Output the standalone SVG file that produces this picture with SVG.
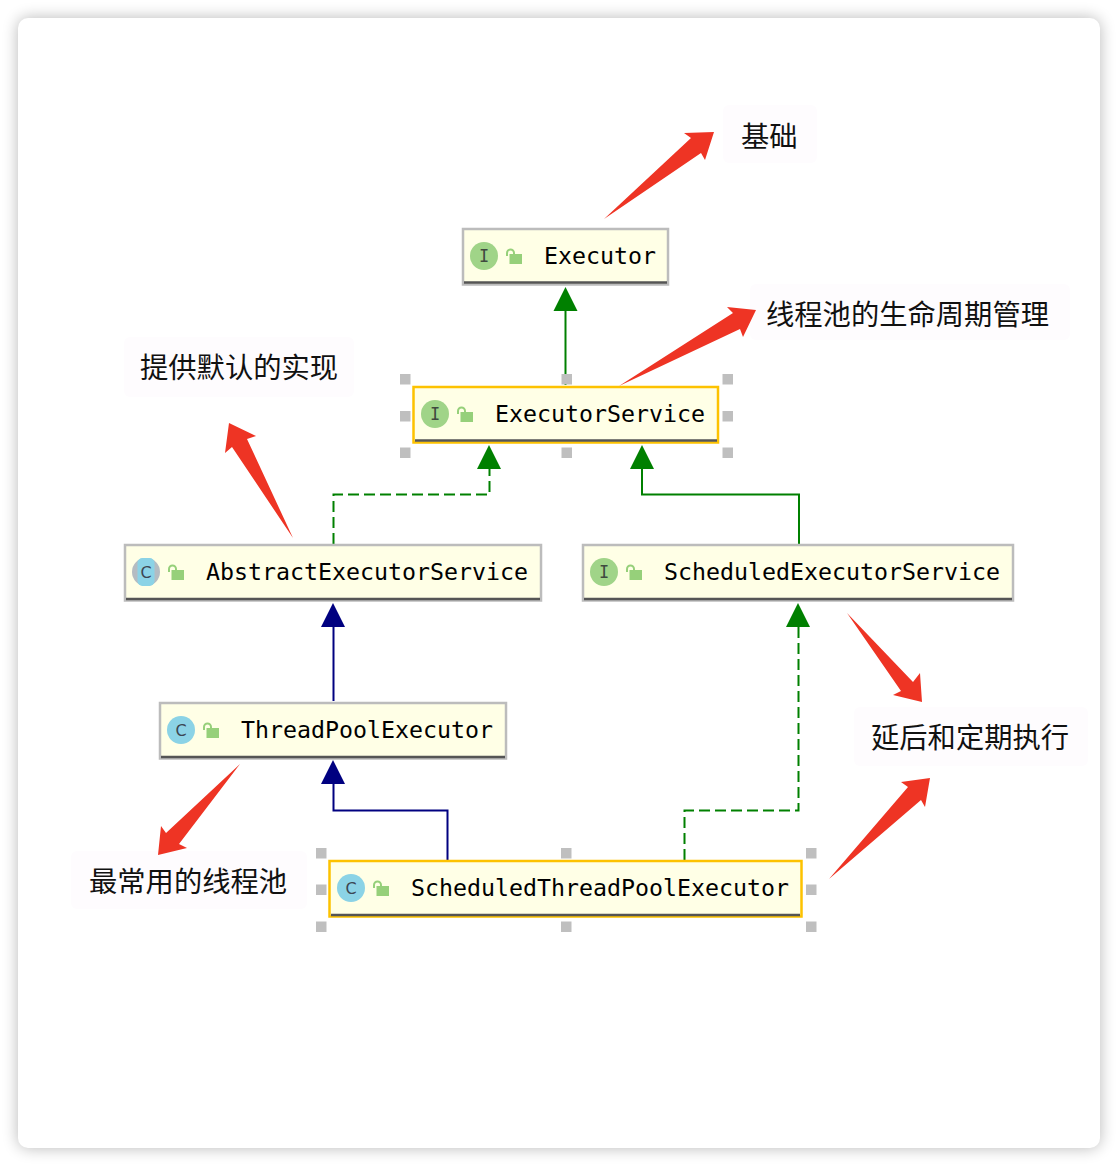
<svg xmlns="http://www.w3.org/2000/svg" width="1118" height="1166" viewBox="0 0 1118 1166">
<style>
.box{fill:#ffffe6;stroke:#bcbcbc;stroke-width:2.5}
.sel{fill:#ffffe6;stroke:#fdc200;stroke-width:2.5}
.bar{stroke:#555;stroke-width:2.5}
.name{font-family:"DejaVu Sans Mono",monospace;font-size:23.25px;fill:#000}
.ci{fill:#a0d488}
.cc{fill:#8bd3e6}
.gl{font-family:"DejaVu Sans Mono",monospace;font-size:17px;fill:#3f4a3f;text-anchor:middle}
.gc{font-family:"DejaVu Sans",sans-serif;font-size:16px;fill:#3c4652;text-anchor:middle}
.lk{fill:#96d07a}
.ls{fill:none;stroke:#96d07a;stroke-width:2}
.h{fill:#bfbfbf}
.cg{fill:none;stroke:#008000;stroke-width:2}
.cn{fill:none;stroke:#000080;stroke-width:2}
.d{stroke-dasharray:11 5}
.ag{fill:#008000}
.an{fill:#000080}
.red{fill:#ee3424}
.lb{fill:#fefcfe}
.zh{font-family:"Noto Sans CJK SC",sans-serif;font-size:28.3px;fill:#111}
</style>
<defs>
<filter id="sh" x="-5%" y="-5%" width="110%" height="110%"><feGaussianBlur stdDeviation="8"/></filter>
<g id="lock"><rect x="3.500" y="5" width="12.500" height="10" class="lk"/><path d="M1 7V4a3.500 3.500 0 0 1 7 0v1" class="ls"/></g>
</defs>
<rect width="1118" height="1166" fill="#fff"/>
<rect x="18" y="18" width="1082" height="1130" rx="10" fill="#000" opacity=".28" filter="url(#sh)"/>
<rect x="18" y="18" width="1082" height="1130" rx="10" fill="#fff"/>

<g id="label-jichu"><rect class="lb" x="723" y="105" width="94" height="58" rx="6"/><text class="zh" x="741" y="147">基础</text></g>
<g id="label-lifecycle"><rect class="lb" x="750" y="284" width="320" height="56" rx="6"/><text class="zh" x="766" y="325">线程池的生命周期管理</text></g>
<g id="label-default"><rect class="lb" x="124" y="337" width="230" height="60" rx="6"/><text class="zh" x="140" y="378">提供默认的实现</text></g>
<g id="label-delay"><rect class="lb" x="854" y="707" width="234" height="59" rx="6"/><text class="zh" x="871" y="748">延后和定期执行</text></g>
<g id="label-common"><rect class="lb" x="71" y="851" width="236" height="58" rx="6"/><text class="zh" x="89" y="892">最常用的线程池</text></g>

<g id="connectors">
<path class="cg" d="M565.500 385V308"/><path class="ag" d="M565.500 287l12 24h-24z"/>
<path class="cg d" d="M333.500 544V494.500H489.500V468"/><path class="ag" d="M489 445l12 24h-24z"/>
<path class="cg" d="M799 544V494.500H642V468"/><path class="ag" d="M642 445l12 24h-24z"/>
<path class="cn" d="M333.500 701V624"/><path class="an" d="M333 603l12 24h-24z"/>
<path class="cn" d="M447.500 860V810.500H333.500V782"/><path class="an" d="M333 760l12 24h-24z"/>
<path class="cg d" d="M684.500 860V810.500H798.500V625"/><path class="ag" d="M798 603l12 24h-24z"/>
</g>

<g id="handles" class="h">
<rect x="400" y="374" width="10.500" height="10.500"/><rect x="561.500" y="374" width="10.500" height="10.500"/><rect x="722.500" y="374" width="10.500" height="10.500"/>
<rect x="400" y="411" width="10.500" height="10.500"/><rect x="722.500" y="411" width="10.500" height="10.500"/>
<rect x="400" y="447.500" width="10.500" height="10.500"/><rect x="561.500" y="447.500" width="10.500" height="10.500"/><rect x="722.500" y="447.500" width="10.500" height="10.500"/>
<rect x="316" y="848" width="10.500" height="10.500"/><rect x="561" y="848" width="10.500" height="10.500"/><rect x="806" y="848" width="10.500" height="10.500"/>
<rect x="316" y="884.500" width="10.500" height="10.500"/><rect x="806" y="884.500" width="10.500" height="10.500"/>
<rect x="316" y="921.500" width="10.500" height="10.500"/><rect x="561" y="921.500" width="10.500" height="10.500"/><rect x="806" y="921.500" width="10.500" height="10.500"/>
</g>

<g id="executor">
<rect class="box" x="463" y="229" width="205" height="55.500"/><path class="bar" d="M464 282.500H667"/>
<circle class="ci" cx="484" cy="256" r="14"/><text class="gl" x="484" y="262">I</text>
<use href="#lock" x="506" y="249"/>
<text class="name" x="544" y="264">Executor</text>
</g>
<g id="executor-service">
<rect class="sel" x="413.500" y="387" width="304.500" height="55.500"/><path class="bar" d="M415 440.500H717"/>
<circle class="ci" cx="435" cy="414" r="14"/><text class="gl" x="435" y="420">I</text>
<use href="#lock" x="457" y="407"/>
<text class="name" x="495" y="422">ExecutorService</text>
</g>
<g id="abstract-executor-service">
<rect class="box" x="125" y="545" width="416" height="55.500"/><path class="bar" d="M126 599H540"/>
<circle cx="146" cy="572" r="14" fill="#b4bcc2"/><rect x="137.500" y="558" width="17" height="28" rx="5" class="cc"/>
<text class="gc" x="146" y="578">C</text>
<use href="#lock" x="168" y="565"/>
<text class="name" x="206" y="580">AbstractExecutorService</text>
</g>
<g id="scheduled-executor-service">
<rect class="box" x="583" y="545" width="430" height="55.500"/><path class="bar" d="M584 599H1012"/>
<circle class="ci" cx="604" cy="572" r="14"/><text class="gl" x="604" y="578">I</text>
<use href="#lock" x="626" y="565"/>
<text class="name" x="664" y="580">ScheduledExecutorService</text>
</g>
<g id="thread-pool-executor">
<rect class="box" x="160" y="703" width="346" height="55.500"/><path class="bar" d="M161 757H505"/>
<circle class="cc" cx="181" cy="730" r="14"/><text class="gc" x="181" y="736">C</text>
<use href="#lock" x="203" y="723"/>
<text class="name" x="241" y="738">ThreadPoolExecutor</text>
</g>
<g id="scheduled-thread-pool-executor">
<rect class="sel" x="329.500" y="861" width="472" height="55.500"/><path class="bar" d="M331 915H800"/>
<circle class="cc" cx="351" cy="888" r="14"/><text class="gc" x="351" y="894">C</text>
<use href="#lock" x="373" y="881"/>
<text class="name" x="411" y="896">ScheduledThreadPoolExecutor</text>
</g>

<g id="annotations">
<path class="red" d="M604 219L691 138L684 133L714 132L705 160L701 153Z"/>
<path class="red" d="M619 386L733 313L727 307L756 310L743 337L740 329Z"/>
<path class="red" d="M293 538L247 439L256 436L229 423L225 453L232 447Z"/>
<path class="red" d="M847 613L913 682L920 673L922 702L893 695L901 691Z"/>
<path class="red" d="M240 764L166 833L161 826L158 855L187 848L179 844Z"/>
<path class="red" d="M829 879L908 787L901 782L930 778L925 807L921 800Z"/>
</g>
</svg>
